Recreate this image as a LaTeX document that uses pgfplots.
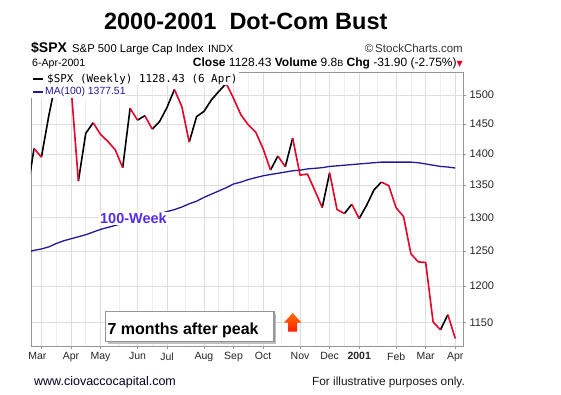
\documentclass[border=0pt]{standalone}
\usepackage{fontspec}
\setmainfont{Liberation Sans}
\newfontfamily\dejavu{DejaVu Sans}
\newfontfamily\dmono{DejaVu Sans Mono}
\usepackage{pgfplots}
\pgfplotsset{compat=1.18}
\definecolor{downred}{RGB}{232,0,40}
\definecolor{mablue}{RGB}{35,25,150}
\definecolor{weekblue}{RGB}{85,45,230}
\definecolor{gridc}{RGB}{222,222,222}
\definecolor{framec}{RGB}{150,150,150}
\definecolor{arrowtop}{RGB}{255,110,0}
\definecolor{arrowbot}{RGB}{255,30,0}
\newcommand{\fs}[1]{\fontsize{#1bp}{#1bp}\selectfont}
\begin{document}
\begin{tikzpicture}
\useasboundingbox (-31bp,-49bp) rectangle (530bp,346bp);
\begin{axis}[
  scale only axis, width=432bp, height=274bp,
  xmin=-0.41, xmax=58.05, ymode=log, ymin=1118.6, ymax=1541.4,
  axis line style={framec, line width=0.8bp},
  xtick={1,5,9,14,18,23,27,31,36,40,44,49,53,57},
  xticklabels={\hspace*{-8bp}Mar,Apr,May,Jun,Jul,Aug,Sep,Oct,Nov,Dec,\textbf{2001},Feb,Mar,Apr},
  minor xtick={3,7,11.5,16,20.5,25,29,33.5,38,42,46.5,51,55},
  ytick={1150,1200,1250,1300,1350,1400,1450,1500},
  yticklabels={1150,1200,1250,1300,1350,1400,1450,1500},
  xtick pos=lower, ytick pos=right, yticklabel pos=right,
  tick align=outside, major tick length=3bp, minor tick length=0bp,
  tick style={framec, line width=0.6bp},
  xmajorgrids, ymajorgrids, xminorgrids,
  major grid style={gridc, line width=0.7bp},
  minor grid style={gridc!50, line width=0.6bp},
  ticklabel style={font=\fs{11}, text=black!85},
  xticklabel style={font=\fs{10.5}},
  unbounded coords=jump,
]
% 100-week moving average
\addplot[mablue, line width=1.3bp, line join=round] coordinates {
(-1,1248) (0,1251) (1,1253) (2,1256) (3,1261) (4,1265) (5,1268) (6,1271) (7,1274) (8,1278)
(9,1282) (10,1285) (11,1288) (12,1291) (13,1294) (14,1297) (15,1300) (16,1303) (17,1306)
(18,1309) (19,1312) (20,1316) (21,1321) (22,1325) (23,1331) (24,1336) (25,1341) (26,1346)
(27,1352) (28,1355) (29,1359) (30,1362) (31,1365) (32,1367) (33,1369) (34,1371) (35,1373)
(36,1374) (37,1376) (38,1377) (39,1378) (40,1380) (41,1381) (42,1382) (43,1383) (44,1384)
(45,1385) (46,1386) (47,1387) (48,1387) (49,1387) (50,1387) (51,1387) (52,1386) (53,1384)
(54,1382) (55,1380) (56,1379) (57,1377.51)
};
% weekly closes, rising segments
\addplot[black, line width=1.6bp, line join=round] coordinates {
(-1,1333.36) (0,1409.17) (0.5,nan)
(1,1395.07) (2,1464.47) (3,1527.46) (3.5,nan)
(4,1498.58) (5,1516.35) (5.5,nan)
(6,1356.56) (7,1434.54) (8,1452.43) (8.5,nan)
(12,1378.02) (13,1477.26) (13.5,nan)
(14,1456.95) (15,1464.46) (15.5,nan)
(16,1441.48) (17,1454.60) (18,1478.90) (19,1509.98) (19.5,nan)
(21,1419.89) (22,1462.93) (23,1471.84) (24,1491.72) (25,1506.45) (26,1520.77) (26.5,nan)
(32,1374.17) (33,1396.93) (33.5,nan)
(34,1379.58) (35,1426.69) (35.5,nan)
(39,1315.23) (40,1369.89) (40.5,nan)
(42,1305.95) (43,1320.28) (43.5,nan)
(44,1298.35) (45,1318.55) (46,1342.54) (47,1354.95) (47.5,nan)
(55,1139.83) (56,1160.33)
};
% weekly closes, falling segments
\addplot[downred, line width=1.6bp, line join=round] coordinates {
(0,1409.17) (1,1395.07) (1.5,nan)
(3,1527.46) (4,1498.58) (4.5,nan)
(5,1516.35) (6,1356.56) (6.5,nan)
(8,1452.43) (9,1432.63) (10,1420.96) (11,1406.95) (12,1378.02) (12.5,nan)
(13,1477.26) (14,1456.95) (14.5,nan)
(15,1464.46) (16,1441.48) (16.5,nan)
(19,1509.98) (20,1480.19) (21,1419.89) (21.5,nan)
(26,1520.77) (27,1494.50) (28,1465.81) (29,1448.72) (30,1436.51) (31,1408.99) (32,1374.17) (32.5,nan)
(33,1396.93) (34,1379.58) (34.5,nan)
(35,1426.69) (36,1365.98) (37,1367.72) (38,1341.77) (39,1315.23) (39.5,nan)
(40,1369.89) (41,1312.15) (42,1305.95) (42.5,nan)
(43,1320.28) (44,1298.35) (44.5,nan)
(47,1354.95) (48,1349.47) (49,1314.76) (50,1301.53) (51,1245.86) (52,1234.18) (53,1233.42) (54,1150.53) (55,1139.83) (55.5,nan)
(56,1160.33) (57,1128.43)
};
\end{axis}
% legend block
\fill[white] (0.5bp,261bp) rectangle (208bp,273.5bp);
\fill[white] (0.5bp,248bp) rectangle (95bp,261bp);
\draw[black, line width=2bp] (2bp,266.7bp) -- (12bp,266.7bp);
\node[anchor=base west, inner sep=0] at (16bp,263.3bp) {\dmono\fs{10.9}\$SPX (Weekly) 1128.43 (6 Apr)};
\draw[mablue, line width=2bp] (2bp,254.3bp) -- (12bp,254.3bp);
\node[anchor=base west, inner sep=0, text=mablue] at (14bp,251.5bp) {\fs{10.4}MA(100) 1377.51};
% header
\node[anchor=base, inner sep=0] at (214.8bp,316.7bp) {\fs{23.5}\textbf{2000-2001\ \ Dot-Com Bust}};
\node[anchor=base west, inner sep=0] at (0bp,293.3bp) {\fs{14}\textbf{\$SPX}};
\node[anchor=base west, inner sep=0] at (41bp,293.3bp) {\fs{11.3}S\&P 500 Large Cap Index};
\node[anchor=base west, inner sep=0] at (177bp,293.3bp) {\fs{10.5}INDX};
\node[anchor=base east, inner sep=0, text=black!80] at (432bp,293.3bp) {\fs{11.5}©\,StockCharts.com};
\node[anchor=base west, inner sep=0] at (1bp,279.3bp) {\fs{10.6}6-Apr-2001};
\node[anchor=base east, inner sep=0] at (432bp,279.3bp) {\fs{12}\textbf{Close} 1128.43 \textbf{Volume} 9.8{\fs{9}B} \textbf{Chg} -31.90 (-2.75\%){\dejavu\fs{8}\textcolor{downred}{▼}}};
% annotations
\node[fill=white, inner sep=1.5bp, text=weekblue, font=\fs{14.5}\bfseries] at (102.5bp,127.5bp) {100-Week};
\fill[black!25] (76.7bp,2.3bp) rectangle (245bp,32.3bp);
\draw[framec, line width=1.2bp, fill=white] (74.7bp,4.3bp) rectangle (243bp,34.3bp);
\node[anchor=base west, inner sep=0] at (76.3bp,12bp) {\fs{16}\textbf{7 months after peak}};
\shade[top color=arrowtop, bottom color=arrowbot] (261.7bp,33bp) -- (270.5bp,23.3bp) -- (266.2bp,23.3bp) -- (266.2bp,14.3bp) -- (257.2bp,14.3bp) -- (257.2bp,23.3bp) -- (252.9bp,23.3bp) -- cycle;
% footer
\node[anchor=base west, inner sep=0, text=black!85!blue] at (3bp,-39bp) {\fs{12.5}www.ciovaccocapital.com};
\node[anchor=base east, inner sep=0, text=black!90] at (434bp,-39bp) {\fs{11.8}For illustrative purposes only.};
\end{tikzpicture}
\end{document}
